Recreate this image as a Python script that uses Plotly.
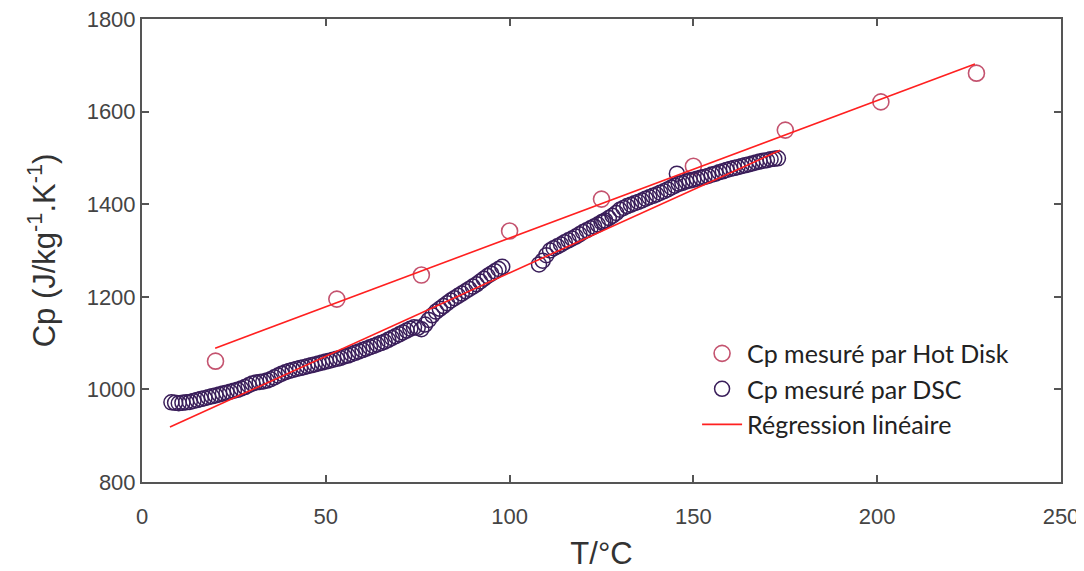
import numpy as np
import plotly.graph_objects as go

# Hot Disk measurements
hd_T = [20, 53, 76, 100, 125, 150, 175, 201, 227]
hd_Cp = [1061, 1195, 1247, 1342, 1411, 1482, 1560, 1621, 1683]

# DSC measurements (part 1: 8..98 °C)
dsc_T1 = list(range(8, 99))
dsc_Cp1 = [972, 971, 970, 971, 972, 973, 975, 977, 979, 981,
           983, 985, 987, 989, 991, 993, 995, 997, 999, 1002,
           1005, 1009, 1013, 1015, 1016, 1017, 1019, 1022, 1026, 1030,
           1034, 1037, 1040, 1042, 1044, 1046, 1048, 1050, 1052, 1054,
           1056, 1058, 1060, 1062, 1064, 1066, 1068, 1071, 1073, 1076,
           1079, 1082, 1085, 1088, 1091, 1094, 1097, 1100, 1103, 1107,
           1111, 1115, 1119, 1123, 1127, 1131, 1134, 1133, 1130, 1140,
           1150, 1160, 1168, 1174, 1180, 1186, 1192, 1197, 1202, 1207,
           1212, 1217, 1222, 1227, 1233, 1239, 1245, 1250, 1255, 1260,
           1265]
# DSC measurements (part 2: 108..173 °C)
dsc_T2 = list(range(108, 174))
dsc_Cp2 = [1270, 1278, 1290, 1300, 1305, 1309, 1313, 1318, 1322, 1326,
           1330, 1335, 1340, 1344, 1348, 1352, 1356, 1361, 1365, 1370,
           1375, 1381, 1388, 1392, 1396, 1399, 1402, 1405, 1408, 1412,
           1415, 1418, 1421, 1425, 1428, 1432, 1436, 1440, 1444, 1446,
           1449, 1451, 1453, 1455, 1457, 1459, 1461, 1464, 1466, 1469,
           1471, 1474, 1476, 1478, 1480, 1482, 1484, 1486, 1488, 1490,
           1492, 1494, 1495, 1497, 1498, 1499]
# isolated DSC points
dsc_T3 = [145.5, 125.5]
dsc_Cp3 = [1466, 1362]

# Linear regressions: (slope, intercept, T start, T end)
reg_hd = (2.97, 1030.0, 19.9, 226.6)
reg_dsc = (3.60, 891.6, 7.6, 173.6)

x_ticks = [0, 50, 100, 150, 200, 250]
y_ticks = [800, 1000, 1200, 1400, 1600, 1800]

hd_color = "#c4536f"
dsc_color = "#3a1e5a"
line_color = "#ff2020"

dsc_T = dsc_T1 + dsc_T2 + dsc_T3
dsc_Cp = dsc_Cp1 + dsc_Cp2 + dsc_Cp3

fig = go.Figure()

def reg_line(r):
    s, b, t0, t1 = r
    t = np.array([t0, t1])
    return t, s * t + b

fig.add_trace(go.Scatter(
    x=hd_T, y=hd_Cp, mode="markers", name="Cp mesuré par Hot Disk",
    marker=dict(symbol="circle-open", size=16, color=hd_color,
                line=dict(width=1.6, color=hd_color))))
fig.add_trace(go.Scatter(
    x=dsc_T, y=dsc_Cp, mode="markers", name="Cp mesuré par DSC",
    marker=dict(symbol="circle-open", size=15, color=dsc_color,
                line=dict(width=1.5, color=dsc_color))))
t, c = reg_line(reg_dsc)
fig.add_trace(go.Scatter(x=t, y=c, mode="lines", name="Régression linéaire",
                         legendgroup="reg", line=dict(color=line_color, width=1.6)))
t, c = reg_line(reg_hd)
fig.add_trace(go.Scatter(x=t, y=c, mode="lines", name="Régression linéaire",
                         legendgroup="reg", showlegend=False,
                         line=dict(color=line_color, width=1.6)))

axis_common = dict(
    showline=True, linecolor="#555555", linewidth=2, mirror="ticks",
    ticks="inside", ticklen=7, tickwidth=1.5, tickcolor="#555555",
    showgrid=False, zeroline=False, automargin=False, ticklabeloverflow="allow",
    tickfont=dict(family="Liberation Sans, Arial, sans-serif", size=22, color="#444444"),
)

# page body has an 8px margin, so the figure is sized/offset to compensate
fig.update_layout(
    width=1076, height=563,
    margin=dict(l=134, r=23, t=11, b=89),
    plot_bgcolor="white", paper_bgcolor="white",
    xaxis=dict(range=[0, 250], tickvals=x_ticks, ticklabelstandoff=14,
               title=dict(text="T/°C", standoff=20,
                          font=dict(family="Liberation Sans, Arial, sans-serif", size=31, color="#333333")),
               **axis_common),
    yaxis=dict(range=[800, 1800], tickvals=y_ticks,
               title=dict(text="Cp (J/kg<sup>-1</sup>.K<sup>-1</sup>)", standoff=22,
                          font=dict(family="Liberation Sans, Arial, sans-serif", size=31, color="#333333")),
               **axis_common),
    legend=dict(x=0.604, y=0.327, xanchor="left", yanchor="top",
                bgcolor="rgba(0,0,0,0)",
                font=dict(family="Lato, sans-serif", size=25, color="#222222"),
                tracegroupgap=0, itemwidth=40),
    showlegend=True,
)

fig.write_html("out.html")
